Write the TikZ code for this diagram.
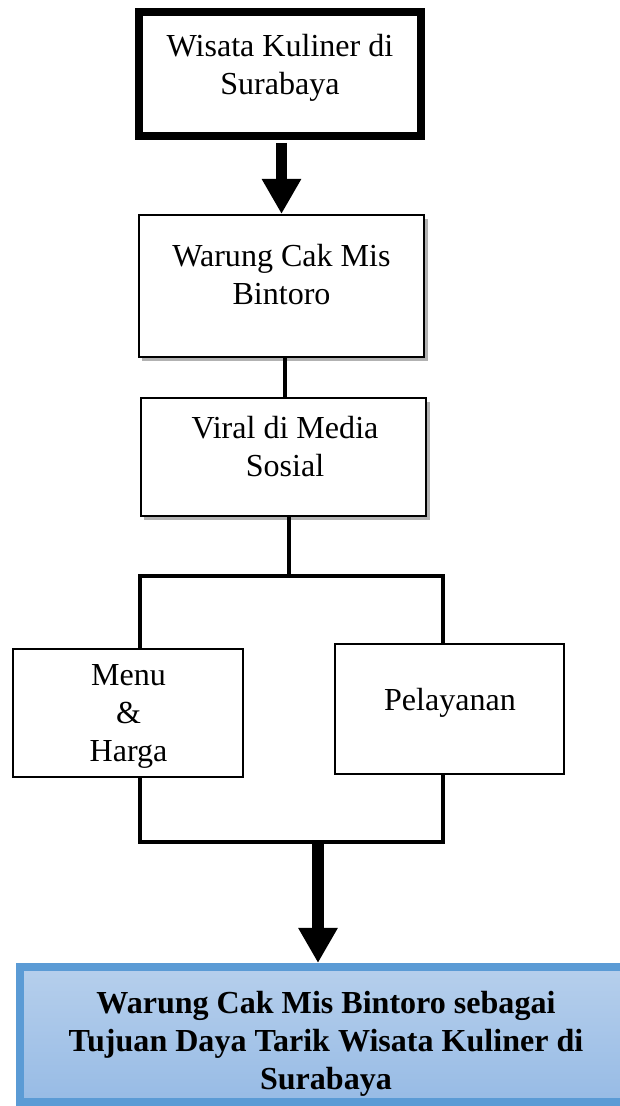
\documentclass[tikz,border=0pt]{standalone}
\usepackage{fontspec}
\setmainfont{Liberation Serif}
\usetikzlibrary{arrows.meta,shadows}
\definecolor{boxblue}{RGB}{91,155,213}
\definecolor{filltop}{RGB}{182,207,236}
\definecolor{fillbot}{RGB}{151,187,229}

\begin{document}
\begin{tikzpicture}[x=0.025cm,y=-0.025cm]
\tikzstyle{box}=[draw,rectangle,fill=white,inner sep=0,line width=1.4pt]
\tikzstyle{shade}=[drop shadow={shadow xshift=2.5pt,shadow yshift=-3pt,fill=black,opacity=0.3}]
\tikzstyle{txt}=[align=center,inner sep=0,font=\fontsize{22.8}{27}\selectfont]
\tikzstyle{conn}=[line width=3.5pt]
\tikzstyle{bigarrow}=[line width=8.5pt,-{Triangle[width=0.925cm,length=0.875cm]}]
\useasboundingbox[fill=white] (0,0) rectangle (619,1106);

% boxes
\node[box,shade,line width=5.7pt,minimum width=7.05cm,minimum height=3.1cm] (wisata) at (280,74) {};
\node[box,shade,minimum width=7.125cm,minimum height=3.55cm] (warung) at (281.5,286) {};
\node[box,shade,minimum width=7.125cm,minimum height=2.95cm] (viral) at (283.5,457) {};
\node[box,minimum width=5.75cm,minimum height=3.2cm] (menu) at (128,713) {};
\node[box,minimum width=5.725cm,minimum height=3.25cm] (pelayanan) at (449.5,709) {};
\node[box,draw=boxblue,line width=5.7pt,top color=filltop,bottom color=fillbot,minimum width=15.6cm,minimum height=3.375cm] (tujuan) at (332,1034.5) {};

% texts
\node[txt] (wisata-t) at (280,68) {Wisata Kuliner di\\Surabaya};
\node[txt] (warung-t) at (281.5,274.5) {Warung Cak Mis\\Bintoro};
\node[txt] (viral-t) at (285,446.5) {Viral di Media\\Sosial};
\node[txt] (menu-t) at (128.5,716) {Menu\\\&\\Harga};
\node[txt] (pelayanan-t) at (450,703) {Pelayanan};
\node[txt,font=\fontsize{22.8}{27}\selectfont\bfseries] (tujuan-t) at (326,1043.5) {Warung Cak Mis Bintoro sebagai\\Tujuan Daya Tarik Wisata Kuliner di\\Surabaya};

% junctions
\coordinate (split) at (289,576);
\coordinate (jl) at (140,576);
\coordinate (jr) at (443,576);
\coordinate (kl) at (140,842);
\coordinate (kr) at (443,842);
\coordinate (merge) at (318,842);

% connectors
\draw[bigarrow,shorten <=2pt] (wisata.south -| warung.north) -- (warung.north);
\draw[conn] ([xshift=2.5pt]warung.south) -- ([xshift=2.5pt]warung.south |- viral.north);
\draw[conn] (viral.south -| split) -- (split);
\draw[conn] (menu.north -| jl) -- (jl) -- (jr) -- (pelayanan.north -| jr);
\draw[conn] (menu.south -| kl) -- (kl) -- (kr) -- (pelayanan.south -| kr);
\draw[bigarrow] (merge) -- (merge |- tujuan.north);
\end{tikzpicture}
\end{document}
